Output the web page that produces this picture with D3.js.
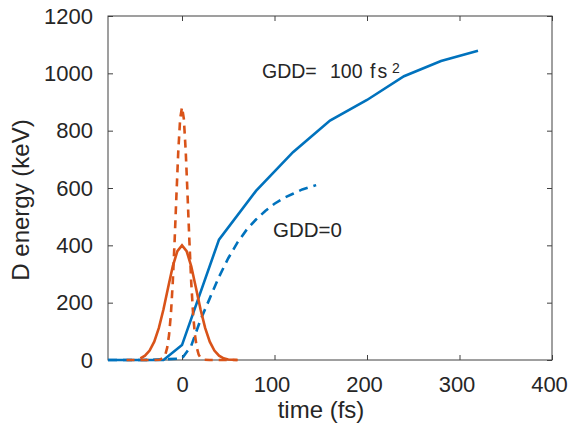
<!DOCTYPE html>
<html>
<head>
<meta charset="utf-8">
<script src="https://cdn.jsdelivr.net/npm/d3@7"></script>
<style>
  html, body { margin: 0; padding: 0; background: #fff; }
  svg { display: block; }
  text { font-family: "Liberation Sans", Arial, Helvetica, sans-serif; fill: #262626; }
</style>
</head>
<body>
<svg id="chart" width="568" height="429"></svg>
<script>
// ---- data ----
const xTicks = [0, 100, 200, 300, 400];
const yTicks = [0, 200, 400, 600, 800, 1000, 1200];

// GDD = 100 fs^2 (blue solid)
const blueSolidT = [-80, -60, -40, -20, 0, 40, 80, 120, 160, 200, 240, 280, 320];
const blueSolidE = [0, 0, 0, 0, 52, 420, 590, 725, 835, 907, 990, 1043, 1079];

// GDD = 0 (blue dashed)
const blueDashT = [-80, -40, 0, 10, 20, 30, 40, 50, 60, 70, 80, 90, 100, 110, 120, 130, 140, 145];
const blueDashE = [0, 0, 5, 50, 140, 215, 290, 355, 410, 455, 490, 520, 545, 565, 580, 595, 605, 610];

// pulse envelope, GDD = 100 fs^2 (orange solid)
const orangeSolidT = [-45, -40, -35, -30, -25, -20, -15, -10, -5, 0, 5, 10, 15, 20, 25, 30, 35, 40, 45, 50, 55, 60];
const orangeSolidE = [6, 15, 33, 64, 112, 177, 253, 327, 380, 400, 380, 327, 253, 177, 112, 64, 33, 15, 6, 2, 1, 0];

// pulse envelope, GDD = 0 (orange dashed)
const orangeDashT = [-60, -30, -24, -20, -18, -16, -14, -12, -10, -8, -6, -4, -2, 0, 2, 4, 6, 8, 10, 12, 14, 16, 18, 20, 24, 30, 60];
const orangeDashE = [0, 0, 1, 8, 19, 43, 87, 160, 270, 414, 576, 730, 841, 882, 841, 730, 576, 414, 270, 160, 87, 43, 19, 8, 1, 0, 0];

// ---- chart ----
const svg = d3.select("#chart");
const L = 108, R = 552, T = 16, B = 360;
const x = d3.scaleLinear().domain([-80, 400]).range([L, R]);
const y = d3.scaleLinear().domain([0, 1200]).range([B, T]);

const axisColor = "#404040";

// box
svg.append("rect").attr("x", L).attr("y", T).attr("width", R - L).attr("height", B - T)
  .attr("fill", "none").attr("stroke", axisColor).attr("stroke-width", 1);

// axes with inward ticks
const gx = svg.append("g").attr("transform", `translate(0,${B})`)
  .call(d3.axisBottom(x).tickValues(xTicks).tickSize(-5).tickPadding(16).tickFormat(d3.format("d")));
const gxt = svg.append("g").attr("transform", `translate(0,${T})`)
  .call(d3.axisTop(x).tickValues(xTicks).tickSize(-5).tickFormat(""));
const gy = svg.append("g").attr("transform", `translate(${L},0)`)
  .call(d3.axisLeft(y).tickValues(yTicks).tickSize(-5).tickPadding(15).tickFormat(d3.format("d")));
const gyr = svg.append("g").attr("transform", `translate(${R},0)`)
  .call(d3.axisRight(y).tickValues(yTicks).tickSize(-5).tickFormat(""));

[gx, gxt, gy, gyr].forEach(g => {
  g.select(".domain").remove();
  g.selectAll(".tick line").attr("stroke", axisColor);
  g.selectAll("text").style("font-size", "22px").attr("fill", "#262626")
    .style("font-family", "'Liberation Sans', Arial, sans-serif");
});
gx.selectAll("text").attr("dy", "0.71em").attr("dx", d => d === 0 ? 0 : -3);

// labels
svg.append("text").attr("x", 321).attr("y", 418).attr("text-anchor", "middle")
  .style("font-size", "24px").text("time (fs)");
svg.append("text").attr("transform", "translate(29,200) rotate(-90)").attr("text-anchor", "middle")
  .style("font-size", "24px").text("D energy (keV)");

// lines
const blue = "#0072BD", orange = "#D95319";
function drawLine(ts, es, color, dash) {
  const data = ts.map((t, i) => [t, es[i]]);
  svg.append("path").datum(data)
    .attr("d", d3.line().x(d => x(d[0])).y(d => y(d[1])))
    .attr("fill", "none").attr("stroke", color).attr("stroke-width", 2.6)
    .attr("stroke-dasharray", dash || null);
}
drawLine(blueSolidT, blueSolidE, blue);
drawLine(blueDashT, blueDashE, blue, "9,6");
drawLine(orangeSolidT, orangeSolidE, orange);
drawLine(orangeDashT, orangeDashE, orange, "8,6");

// annotations
const a1 = svg.append("text").attr("x", 262).attr("y", 78).style("font-size", "19.5px");
a1.append("tspan").text("GDD=");
a1.append("tspan").attr("x", 330).text("100");
a1.append("tspan").attr("x", 370).style("letter-spacing", "2px").text("fs");
a1.append("tspan").attr("x", 392).attr("dy", -5).style("font-size", "14px").text("2");

svg.append("text").attr("x", 273).attr("y", 236.5)
  .style("font-size", "20.5px").text("GDD=0");
</script>
</body>
</html>
